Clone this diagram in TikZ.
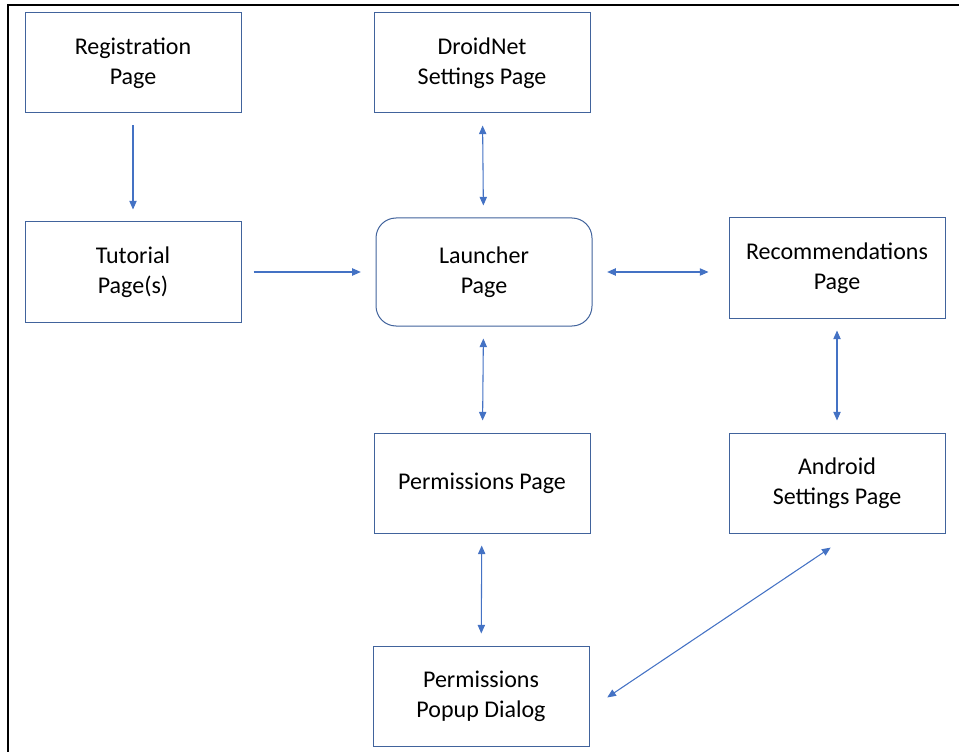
\documentclass[tikz,border=0pt]{standalone}
\usepackage{fontspec}
\setmainfont{Carlito}
\definecolor{boxblue}{HTML}{41639C}
\definecolor{arrowblue}{HTML}{4472C4}
\usetikzlibrary{arrows.meta,positioning,calc}

\begin{document}
\begin{tikzpicture}[x=0.75pt,y=-0.75pt,
  box/.style={rectangle, draw=boxblue, line width=0.75pt, fill=white, minimum width=162pt, minimum height=75pt, align=center, font=\fontsize{18}{22.5}\selectfont, inner sep=0pt},
  link/.style={arrowblue, line width=0.8pt, shorten <=9pt, shorten >=9pt},
  >={Triangle[length=6.5pt,width=5.5pt]}]
\useasboundingbox (0,0) rectangle (959,752);
\draw[line width=1.4pt] (8,752) -- (8,5) -- (959,5);
\node[box] (reg) at (133,63) {Registration\\Page};
\node[box] (droid) at (482,63) {DroidNet\\Settings Page};
\node[box] (tut) at (133,272) {Tutorial\\Page(s)};
\node[box, rounded corners=15pt, minimum height=81pt] (launch) at (484,272) {Launcher\\Page};
\node[box] (recs) at (837,268) {Recommendations\\Page};
\node[box] (perm) at (482,483) {Permissions Page};
\node[box] (android) at (837,483) {Android\\Settings Page};
\node[box] (popup) at (481,696) {Permissions\\Popup Dialog};
\draw[link,->] (reg) -- (tut);
\draw[link,->,shorten >=11pt] (tut) -- (launch);
\draw[link,<->] (droid) -- (launch);
\draw[link,<->,shorten <=11pt,shorten >=15pt] (launch.east) -- (launch.east -| recs.west);
\draw[link,<->] (launch) -- (perm);
\draw[link,<->] (recs) -- (android);
\draw[link,<->] (perm) -- (popup);
\draw[link,<->,shorten <=16pt,shorten >=19pt] ([yshift=-10]popup.east) -- ([xshift=11]android.south);
\end{tikzpicture}
\end{document}
